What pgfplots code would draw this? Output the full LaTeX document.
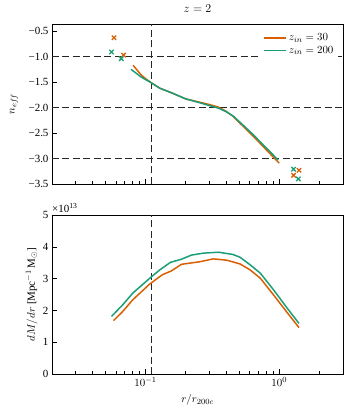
\documentclass[border=0pt]{standalone}
\usepackage{fontspec}
\setmainfont{Liberation Serif}
\usepackage{pgfplots}
\pgfplotsset{compat=1.18}
\definecolor{zthirty}{HTML}{D95F02}
\definecolor{ztwohundred}{HTML}{1B9E77}

\pgfplotsset{
  /pgfplots/rpanel/.style={
    scale only axis, width=291bp,
    xmin=0.02, xmax=3,
    axis line style={line width=0.8pt},
    tick pos=left,
    major tick length=5bp, minor tick length=3bp,
    every tick/.style={black, line width=0.6pt},
    xtick={0.1,1},
    minor xtick={0.02,0.03,0.04,0.05,0.06,0.07,0.08,0.09,
      0.2,0.3,0.4,0.5,0.6,0.7,0.8,0.9,2,3},
    font=\fontsize{11}{13}\selectfont,
    /pgf/number format/assume math mode=true,
    clip=false,
  },
  /pgfplots/refline/.style={black!85, line width=0.8pt,
    dash pattern=on 7bp off 3.5bp, forget plot},
  /pgfplots/curve/.style={line width=1.5pt, forget plot},
  /pgfplots/cross/.style={only marks, mark=x, mark size=3.1bp,
    line width=1.3pt, forget plot},
}

\begin{document}
\begin{tikzpicture}
\path[use as bounding box] (-52bp,-232bp) rectangle (301bp,184bp);

% top panel: effective slope
\begin{semilogxaxis}[rpanel,
  at={(0,0)}, anchor=south west,
  height=160bp,
  ymin=-3.5, ymax=-0.36,
  ytick={-3.5,-3.0,-2.5,-2.0,-1.5,-1.0,-0.5},
  yticklabels={−3.5,−3.0,−2.5,−2.0,−1.5,−1.0,−0.5},
  xticklabels={},
  ylabel={$n_{eff}$},
  ylabel style={at={(axis description cs:-0.131,0.5)}, anchor=center},
  title={\fontsize{12}{14}\selectfont$z=2$},
  title style={at={(axis description cs:0.5,1)}, anchor=south, yshift=2bp},
  legend style={draw=none, fill=white, at={(axis description cs:0.985,0.965)},
    anchor=north east, font=\fontsize{11}{13}\selectfont,
    row sep=0bp, inner xsep=3bp},
  legend cell align=left,
  legend image code/.code={\draw[#1] (0bp,0bp) -- (22bp,0bp);},
]
\addlegendimage{zthirty, line width=1.5pt}
\addlegendentry{$z_{in}=30$}
\addlegendimage{ztwohundred, line width=1.5pt}
\addlegendentry{$z_{in}=200$}

\addplot[refline] coordinates {(0.02,-1)(3,-1)};
\addplot[refline] coordinates {(0.02,-2)(3,-2)};
\addplot[refline] coordinates {(0.02,-3)(3,-3)};
\addplot[refline] coordinates {(0.11,-3.5)(0.11,-0.36)};

\addplot[curve, zthirty] coordinates {
  (0.0808,-1.17)(0.0928,-1.36)(0.1,-1.43)(0.11,-1.51)(0.128,-1.62)
  (0.16,-1.72)(0.20,-1.83)(0.25,-1.89)(0.30,-1.94)(0.35,-1.99)
  (0.40,-2.07)(0.45,-2.17)(0.50,-2.29)(0.55,-2.39)(0.65,-2.58)
  (0.75,-2.75)(0.85,-2.90)(1.0,-3.09)};
\addplot[curve, ztwohundred] coordinates {
  (0.078,-1.25)(0.0928,-1.40)(0.1,-1.45)(0.11,-1.51)(0.128,-1.62)
  (0.16,-1.72)(0.20,-1.83)(0.25,-1.90)(0.30,-1.96)(0.35,-2.01)
  (0.40,-2.08)(0.45,-2.16)(0.50,-2.27)(0.55,-2.37)(0.65,-2.55)
  (0.75,-2.72)(0.85,-2.86)(0.98,-3.03)};

\addplot[cross, zthirty] coordinates {
  (0.0581,-0.63)(0.0686,-0.97)(1.281,-3.33)(1.406,-3.23)};
\addplot[cross, ztwohundred] coordinates {
  (0.0557,-0.91)(0.0659,-1.04)(1.281,-3.21)(1.39,-3.40)};
\end{semilogxaxis}

% bottom panel: mass profile derivative
\begin{semilogxaxis}[rpanel,
  at={(0,-190bp)}, anchor=south west,
  height=159bp,
  ymin=0, ymax=5,
  ytick={0,1,2,3,4,5},
  xticklabels={$10^{-1}$,$10^{0}$},
  xlabel={$r/r_{200c}$},
  xlabel style={at={(axis description cs:0.5,-0.164)}, anchor=center},
  ylabel={$dM/dr$ [Mpc$^{-1}$\,M$_\odot$]},
  ylabel style={at={(axis description cs:-0.07,0.5)}, anchor=center},
]
\node[anchor=south west, inner sep=0pt, font=\fontsize{11}{13}\selectfont]
  at (axis description cs:0,1) [yshift=2bp] {×10\textsuperscript{13}};
\addplot[refline] coordinates {(0.11,0)(0.11,5)};

\addplot[curve, zthirty] coordinates {
  (0.0577,1.68)(0.0674,1.96)(0.0802,2.33)(0.107,2.82)(0.1276,3.06)
  (0.135,3.13)(0.156,3.24)(0.186,3.45)(0.255,3.53)(0.321,3.62)
  (0.405,3.58)(0.51,3.46)(0.608,3.27)(0.723,3.01)(0.91,2.48)
  (1.148,1.93)(1.406,1.46)};
\addplot[curve, ztwohundred] coordinates {
  (0.0557,1.81)(0.0674,2.17)(0.0802,2.54)(0.1096,3.04)(0.1276,3.27)
  (0.1535,3.51)(0.186,3.61)(0.221,3.74)(0.270,3.80)(0.351,3.83)
  (0.45,3.76)(0.51,3.67)(0.608,3.43)(0.723,3.17)(0.91,2.64)
  (1.148,2.07)(1.406,1.59)};
\end{semilogxaxis}
\end{tikzpicture}
\end{document}
